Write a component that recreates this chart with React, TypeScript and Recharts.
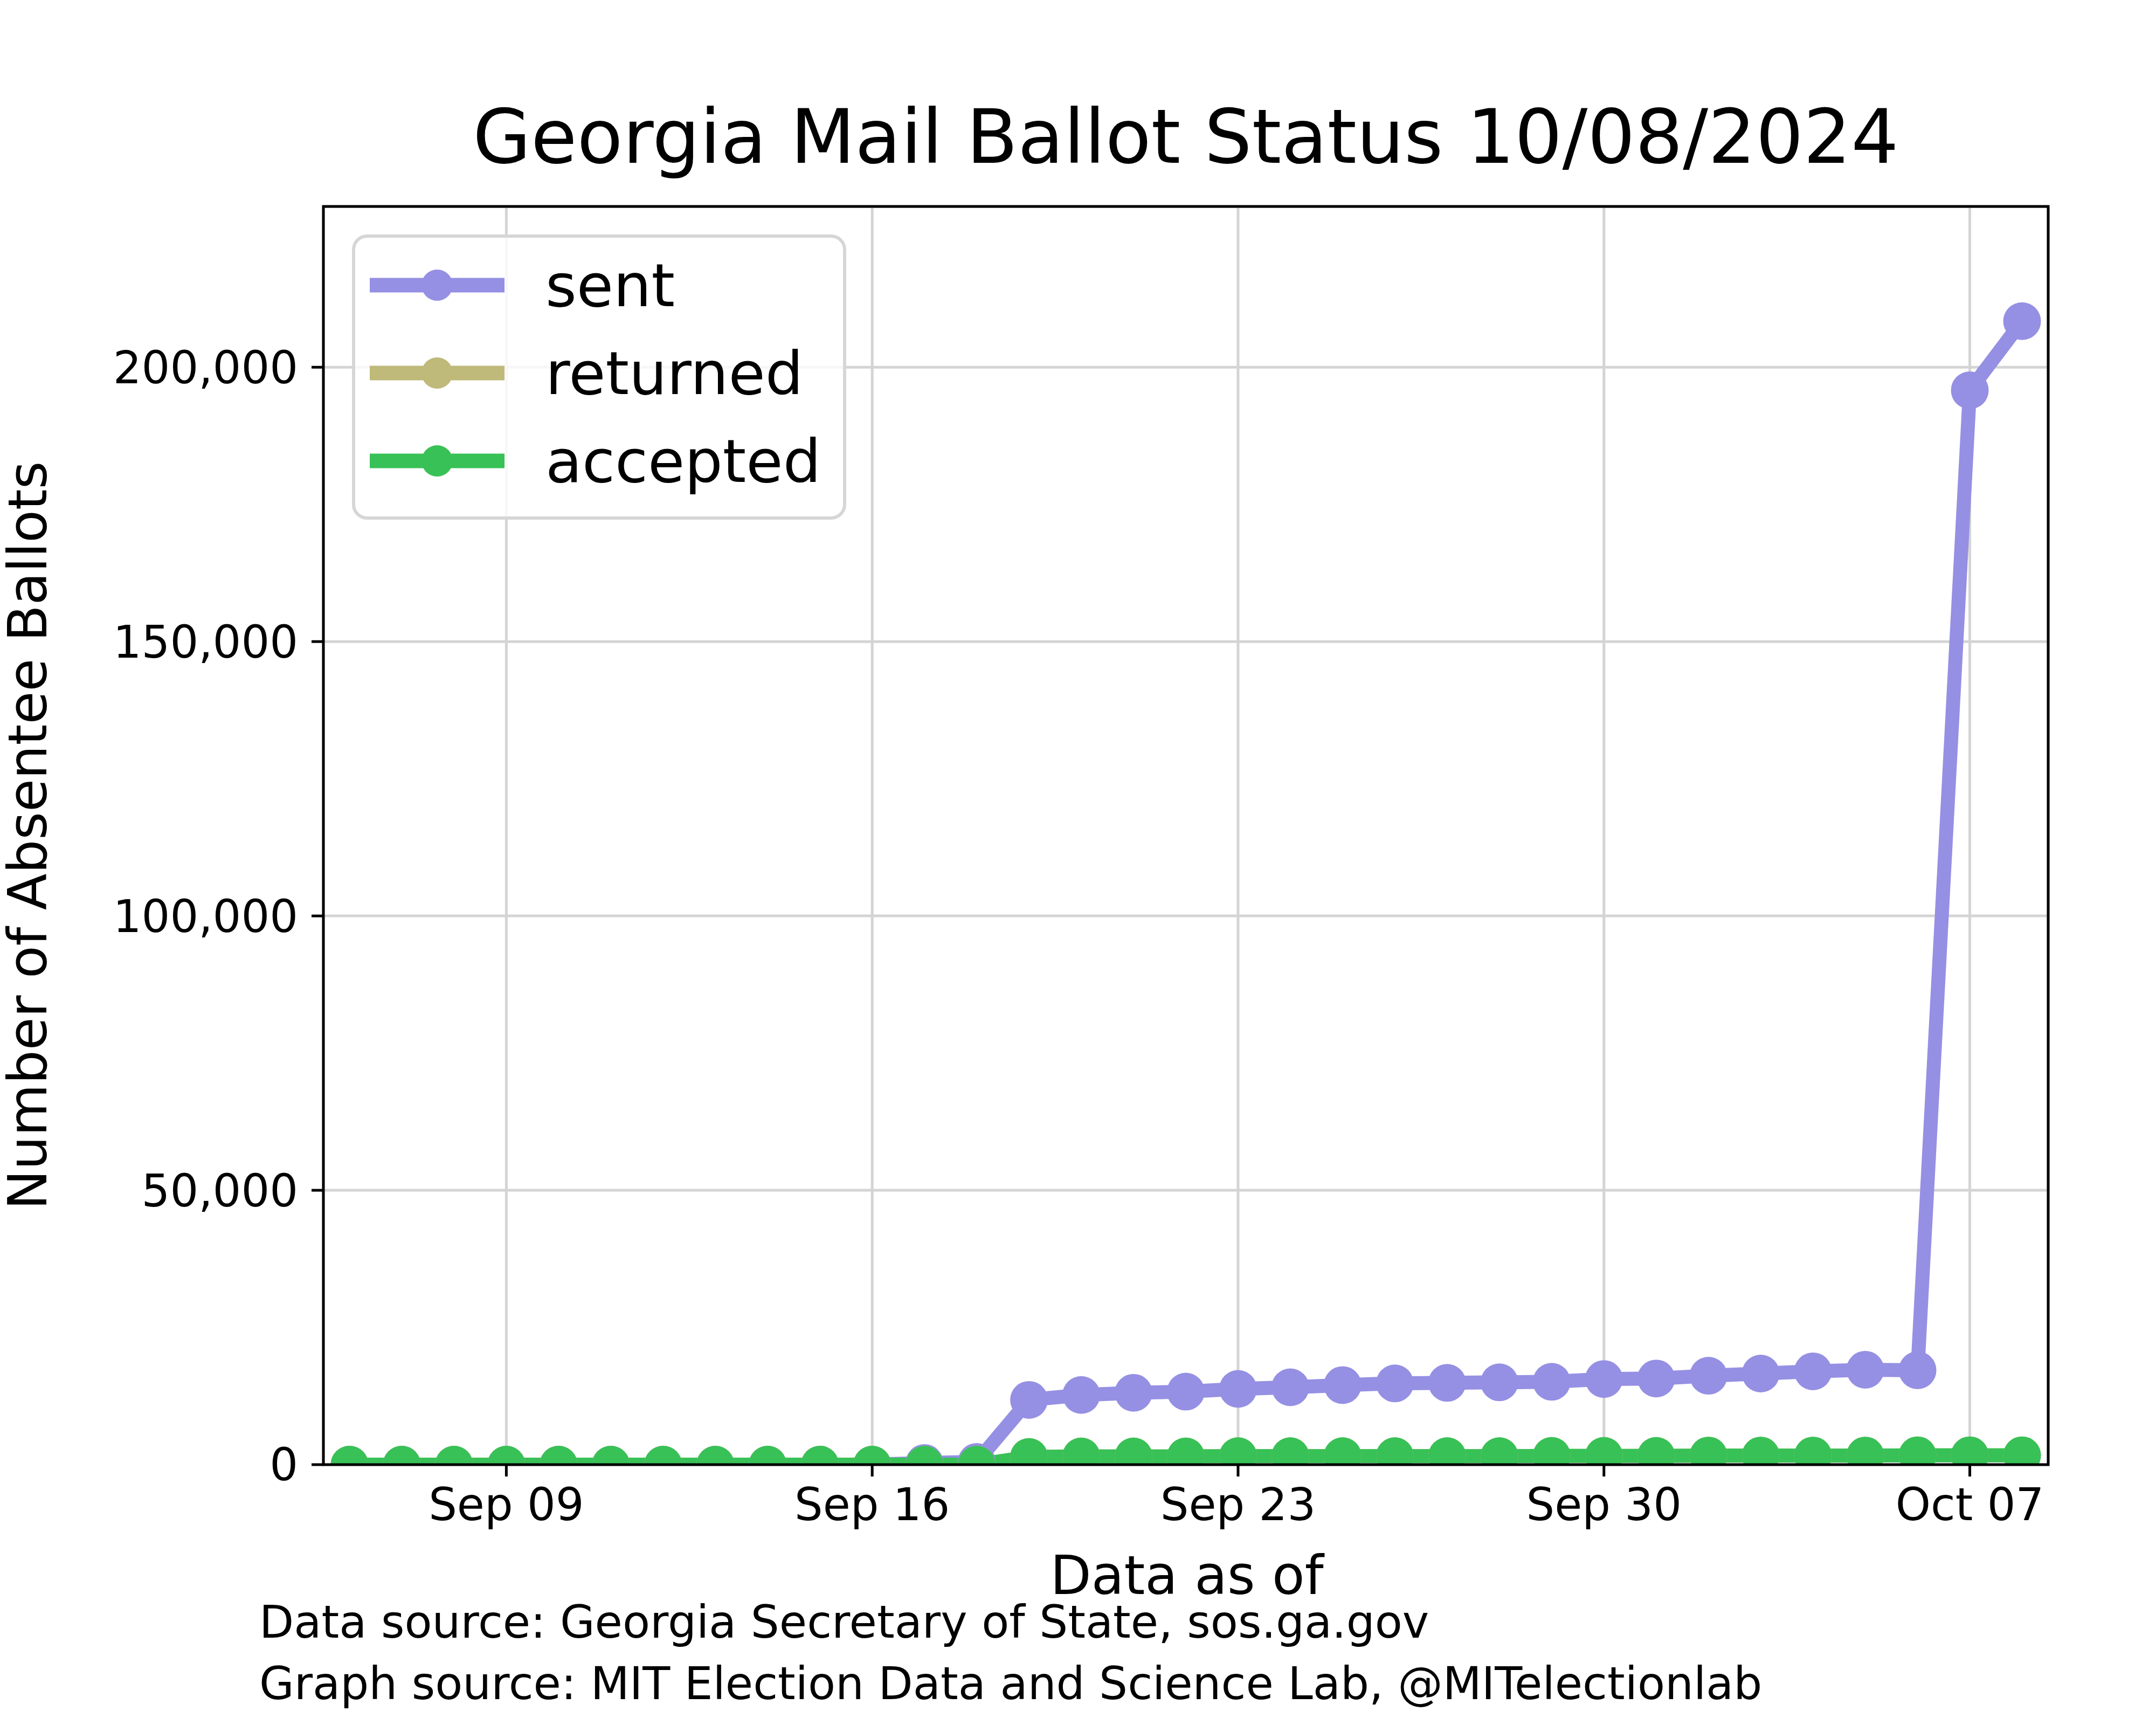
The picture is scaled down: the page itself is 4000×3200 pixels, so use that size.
import { LineChart, Line, XAxis, YAxis, CartesianGrid } from "recharts"

// one entry per day, Sep 06 .. Oct 08
const dateLabels = [
  "Sep 06", "Sep 07", "Sep 08", "Sep 09", "Sep 10", "Sep 11", "Sep 12", "Sep 13",
  "Sep 14", "Sep 15", "Sep 16", "Sep 17", "Sep 18", "Sep 19", "Sep 20", "Sep 21",
  "Sep 22", "Sep 23", "Sep 24", "Sep 25", "Sep 26", "Sep 27", "Sep 28", "Sep 29",
  "Sep 30", "Oct 01", "Oct 02", "Oct 03", "Oct 04", "Oct 05", "Oct 06", "Oct 07",
  "Oct 08",
]

const sent = [
  0, 0, 0, 0, 0, 0, 0, 0, 0, 0, 0, 300, 500, 11800, 12700, 13100, 13300, 13800,
  14100, 14500, 14800, 14900, 15000, 15100, 15600, 15700, 16200, 16600, 17000,
  17300, 17200, 195800, 208400,
]

const returned = [
  0, 0, 0, 0, 0, 0, 0, 0, 0, 0, 0, 0, 0, 1400, 1500, 1500, 1500, 1550, 1550,
  1550, 1550, 1550, 1550, 1600, 1600, 1600, 1650, 1650, 1650, 1650, 1700, 1700,
  1700,
]

const accepted = [
  0, 0, 0, 0, 0, 0, 0, 0, 0, 0, 0, 0, 0, 1400, 1500, 1500, 1500, 1550, 1550,
  1550, 1550, 1550, 1550, 1600, 1600, 1600, 1650, 1650, 1650, 1650, 1700, 1700,
  1700,
]

const xTicks = [3, 10, 17, 24, 31]
const yTicks = [0, 50000, 100000, 150000, 200000]

const series = [
  { key: "sent", name: "sent", color: "#9590e3" },
  { key: "returned", name: "returned", color: "#bfb97a" },
  { key: "accepted", name: "accepted", color: "#38c157" },
]

const data = dateLabels.map((label, i) => ({
  day: i,
  label,
  sent: sent[i],
  returned: returned[i],
  accepted: accepted[i],
}))

const FONT = "DejaVu Sans"

export default function App() {
  return (
    <div style={{ position: "absolute", left: 0, top: 0, width: 4000, height: 3200, background: "#fff" }}>
      <LineChart
        width={4000}
        height={3200}
        data={data}
        margin={{ top: 383, right: 200, left: 0, bottom: 0 }}
        style={{ fontFamily: FONT }}
      >
        <CartesianGrid stroke="#d4d4d4" strokeWidth={5} />
        <XAxis
          type="number"
          dataKey="day"
          domain={[-0.5, 32.5]}
          ticks={xTicks}
          tickFormatter={(v: number) => dateLabels[v]}
          allowDataOverflow
          height={483}
          axisLine={false}
          tickLine={{ stroke: "#000", strokeWidth: 5 }}
          tickSize={22}
          tickMargin={22}
          tick={{ fontSize: 83, fill: "#000", fontFamily: FONT }}
        />
        <YAxis
          type="number"
          domain={[0, 229300]}
          ticks={yTicks}
          tickFormatter={(v: number) => v.toLocaleString("en-US")}
          allowDataOverflow
          width={600}
          axisLine={false}
          tickLine={{ stroke: "#000", strokeWidth: 5 }}
          tickSize={22}
          tickMargin={25}
          tick={{ fontSize: 83, fill: "#000", fontFamily: FONT }}
        />
        {series.map((s) => (
          <Line
            key={s.key}
            type="linear"
            dataKey={s.key}
            name={s.name}
            stroke={s.color}
            strokeWidth={26}
            strokeLinejoin="round"
            dot={{ r: 35, fill: s.color, stroke: s.color, strokeWidth: 0 }}
            activeDot={false}
            isAnimationActive={false}
          />
        ))}
      </LineChart>

      <svg
        width={4000}
        height={3200}
        style={{ position: "absolute", left: 0, top: 0, pointerEvents: "none" }}
        fontFamily={FONT}
      >
        <rect x={600} y={383} width={3200} height={2334} fill="none" stroke="#000" strokeWidth={5} />

        <text x={2200} y={302} textAnchor="middle" fontSize={139} fill="#000">
          Georgia Mail Ballot Status 10/08/2024
        </text>
        <text x={2202} y={2957} textAnchor="middle" fontSize={99} fill="#000">
          Data as of
        </text>
        <text x={86} y={1550} textAnchor="middle" fontSize={99} fill="#000" transform="rotate(-90 86 1550)">
          Number of Absentee Ballots
        </text>
        <text x={481} y={3038} fontSize={83.5} fill="#000">
          Data source: Georgia Secretary of State, sos.ga.gov
        </text>
        <text x={481} y={3152} fontSize={83.5} fill="#000">
          Graph source: MIT Election Data and Science Lab, @MITelectionlab
        </text>

        {/* legend */}
        <rect x={656} y={438} width={911} height={523} rx={25} fill="#fff" fillOpacity={0.8} stroke="#d6d6d6" strokeWidth={6} />
        {series.map((s, i) => {
          const cy = 529 + i * 163
          return (
            <g key={s.key}>
              <line x1={686} x2={936} y1={cy} y2={cy} stroke={s.color} strokeWidth={27} />
              <circle cx={811} cy={cy} r={29} fill={s.color} />
              <text x={1012} y={cy + 39} fontSize={111} fill="#000">
                {s.name}
              </text>
            </g>
          )
        })}
      </svg>
    </div>
  )
}
